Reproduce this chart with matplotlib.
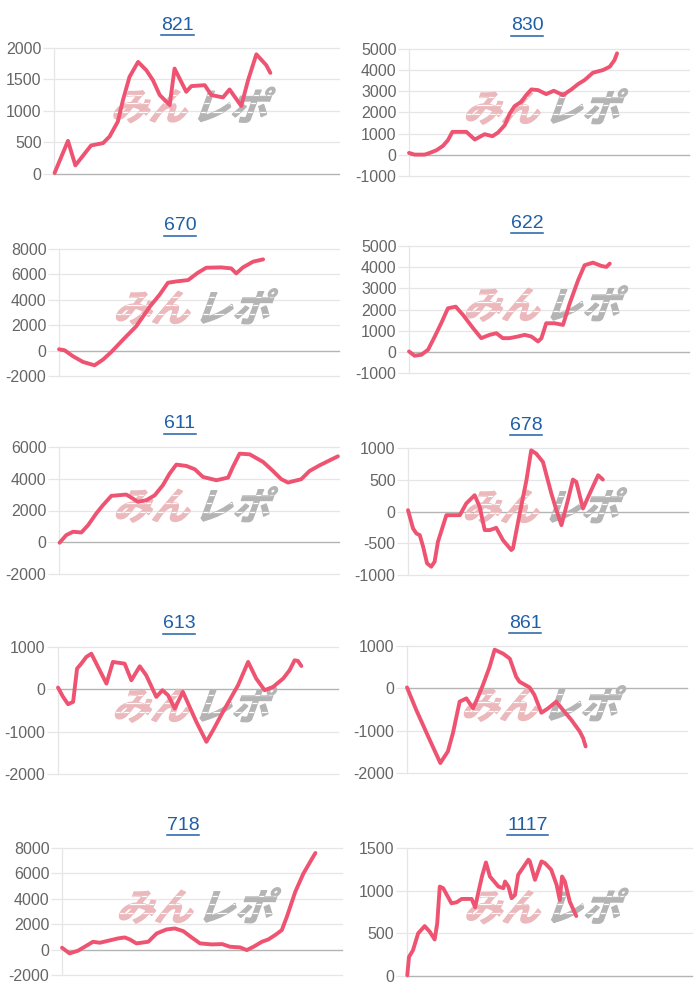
import numpy as np
import matplotlib
matplotlib.use("Agg")
import matplotlib.pyplot as plt
from matplotlib.textpath import TextPath
from matplotlib.patches import PathPatch
from matplotlib.font_manager import FontProperties
from matplotlib.transforms import Affine2D
from matplotlib.lines import Line2D

plt.rcParams['font.family'] = ['Liberation Sans', 'DejaVu Sans']
plt.rcParams['axes.unicode_minus'] = False

# chart data: x as percent of the axis width, y as value
titles = ['821', '830', '670', '622', '611', '678', '613', '861', '718', '1117']

x_821 = [0.2, 4.9, 7.5, 13, 17.2, 19.5, 22.4, 24.2, 26.5, 29.5, 32.4, 34.7, 37.1, 40.6, 42.3,
         46.4, 48.2, 52.9, 55.2, 59.3, 61.6, 65.7, 68.1, 71.0, 74.5, 75.9]
y_821 = [16, 526, 137, 453, 490, 595, 832, 1174, 1542, 1779, 1647, 1490, 1253, 1095, 1674,
         1305, 1395, 1410, 1253, 1216, 1342, 1079, 1490, 1900, 1726, 1605]

x_830 = [0, 2, 5.6, 7.4, 9.8, 12.1, 13.9, 15.5, 20.5, 23.5, 27, 29.8, 31.8, 34.2, 36, 37.7,
         40.1, 41.9, 43.7, 46.1, 49, 51.7, 55, 58, 60.4, 62.7, 65.7, 69.3, 71.7, 73.4, 74.3]
y_830 = [90, 10, 10, 90, 216, 421, 690, 1085, 1085, 722, 974, 880, 1053, 1400, 1953, 2300,
         2506, 2822, 3090, 3058, 2869, 3027, 2822, 3090, 3343, 3532, 3880, 4006, 4164, 4480, 4795]

x_670 = [0, 2, 5, 8.6, 12.7, 15.7, 18.7, 22.9, 27.6, 32.4, 36, 38.9, 41.9, 46.1, 49.6, 52.6,
         57.9, 61.5, 63.3, 65.7, 69.3, 72.9]
y_670 = [105, 26, -447, -895, -1158, -710, -105, 868, 1921, 3447, 4421, 5342, 5447, 5552,
         6131, 6526, 6552, 6474, 6079, 6552, 7000, 7184]

x_622 = [0, 2, 4.4, 6.8, 9.2, 11.5, 13.9, 16.7, 19.3, 22.9, 25.8, 28.8, 31.2, 33.5, 35.9,
         38.9, 41.3, 43.7, 46.1, 47.3, 49, 52, 55, 57.4, 60.4, 62.7, 65.7, 68.7, 70.5, 71.7]
y_622 = [19, -185, -138, 97, 724, 1350, 2055, 2134, 1742, 1116, 646, 802, 880, 646, 646,
         724, 802, 724, 489, 646, 1350, 1350, 1272, 2290, 3386, 4090, 4215, 4058, 4012, 4168]

x_611 = [0.2, 2.6, 5, 8, 10.4, 13.3, 15.7, 18.7, 24, 25.8, 28.2, 31.2, 34.2, 37.1, 39.5, 41.9,
         45.5, 48.5, 51.4, 56.2, 60.4, 62.1, 64.5, 68.1, 72.9, 76.4, 79.4, 81.8, 83.6, 86.5,
         89.5, 93.1, 96.7, 99.6]
y_611 = [-31, 450, 660, 618, 1078, 1811, 2335, 2921, 3005, 2817, 2545, 2649, 2963, 3592,
         4325, 4890, 4806, 4597, 4115, 3906, 4073, 4743, 5581, 5539, 5058, 4492, 3969, 3759,
         3843, 3969, 4492, 4848, 5162, 5413]

x_678 = [0, 1.8, 3, 4.2, 5.4, 6.8, 8.3, 9.5, 10.7, 13.7, 18.5, 20.8, 23.8, 25.6, 27.4, 29.2,
         31.5, 33.9, 36.9, 37.5, 39.9, 42.3, 44, 45.8, 48.2, 51.2, 53, 54.8, 57.1, 58.9, 60.1,
         62.5, 64.9, 67.9, 69.6]
y_678 = [21, -267, -346, -372, -555, -817, -869, -791, -476, -58, -58, 126, 257, 73, -293,
         -293, -257, -450, -607, -581, -31, 492, 963, 911, 780, 283, 21, -215, 178, 503, 466,
         47, 283, 571, 503]

x_613 = [0, 1.8, 3.6, 5.4, 6.8, 8.3, 10.1, 11.9, 14.9, 17.3, 19.6, 23.8, 26.2, 29.2, 31.5,
         35.1, 37.3, 39.3, 41.7, 44.6, 49.4, 53, 55.4, 58.9, 64.3, 67.9, 70.8, 73.8, 76.8,
         80.4, 82.7, 84.5, 85.7, 86.9]
y_613 = [42, -178, -351, -296, 489, 607, 764, 843, 450, 136, 647, 607, 214, 544, 332, -178,
         -21, -139, -453, -60, -767, -1239, -964, -532, 96, 647, 254, -21, 57, 254, 450, 686,
         670, 552]

x_861 = [0, 3.3, 8.1, 11.9, 14.6, 16.4, 18.8, 21.2, 23.6, 25.4, 27.1, 29.5, 31.3, 34.3, 36.7,
         39, 40.2, 43.8, 45.5, 48, 50.4, 53.3, 55.7, 58.7, 61.7, 62.9, 63.8]
y_861 = [21, -511, -1216, -1764, -1490, -1059, -315, -237, -472, -198, 76, 507, 913, 820,
         703, 272, 155, 21, -155, -577, -472, -315, -511, -746, -1020, -1176, -1372]

x_718 = [0, 2.7, 5.7, 8.1, 11.1, 13.5, 16.5, 20, 22.4, 24.2, 26.6, 30.8, 33.8, 37.3, 40.3,
         43.3, 46.3, 49.3, 53.5, 57.2, 60, 63.6, 66, 68.4, 71.4, 73.7, 76.1, 78.5, 80.3, 83.3,
         86.2, 89.3, 90.5]
y_718 = [147, -298, -89, 225, 618, 539, 696, 880, 958, 801, 487, 618, 1272, 1586, 1665, 1455,
         958, 487, 408, 435, 225, 173, -37, 225, 618, 801, 1141, 1534, 2581, 4545, 5984, 7162,
         7607]

x_1117 = [0.1, 0.7, 2.1, 3.9, 6.2, 8, 9.7, 10.6, 11.5, 12.7, 15.6, 17.4, 19.2, 22.7, 23.9,
          25.1, 26.3, 27.7, 29.1, 32.1, 33.8, 34.4, 35.6, 36.7, 37.9, 39, 40.2, 42.6, 43.1,
          44.9, 47.2, 48.4, 50.6, 52.5, 53.6, 54.4, 55.4, 57.1, 59.4]
y_1117 = [8, 224, 302, 499, 585, 518, 428, 616, 1048, 1029, 852, 864, 903, 903, 805, 990,
          1166, 1331, 1166, 1048, 1029, 1107, 1048, 911, 950, 1186, 1245, 1363, 1343, 1127,
          1343, 1323, 1245, 1068, 891, 1166, 1107, 872, 703]

xs = [x_821, x_830, x_670, x_622, x_611, x_678, x_613, x_861, x_718, x_1117]
ys = [y_821, y_830, y_670, y_622, y_611, y_678, y_613, y_861, y_718, y_1117]

yticks = [
    [0, 500, 1000, 1500, 2000],
    [-1000, 0, 1000, 2000, 3000, 4000, 5000],
    [-2000, 0, 2000, 4000, 6000, 8000],
    [-1000, 0, 1000, 2000, 3000, 4000, 5000],
    [-2000, 0, 2000, 4000, 6000],
    [-1000, -500, 0, 500, 1000],
    [-2000, -1000, 0, 1000],
    [-2000, -1000, 0, 1000],
    [-2000, 0, 2000, 4000, 6000, 8000],
    [0, 500, 1000, 1500],
]

# axes boxes in pixels: left, top, right, bottom
boxes = [
    (54, 48, 339, 174), (409, 49, 689, 176),
    (59, 249, 339, 376), (409, 246, 689, 373),
    (59, 447, 339, 574), (408, 448, 688, 575),
    (58, 647, 338, 774), (407, 646, 687, 773),
    (62, 848, 342, 975), (407, 848, 692, 976),
]

W, H = 700, 1000
fig = plt.figure(figsize=(7, 10), dpi=100, facecolor='white')

line_c = '#ee5471'
grid_c = '#e6e6e6'
zero_c = '#b4b4b4'
title_c = '#1f5fa6'
wm_font = FontProperties(family='Noto Sans CJK JP', weight='bold')

titles_txt = []
for i in range(10):
    l, t, r, b = boxes[i]
    ax = fig.add_axes([l / W, 1 - b / H, (r - l) / W, (b - t) / H])
    ax.set_xlim(0, 100)
    tk = yticks[i]
    ax.set_ylim(tk[0], tk[-1])
    ax.set_yticks(tk)
    ax.set_xticks([])
    for yv in tk:
        if yv == 0:
            ax.axhline(0, color=zero_c, lw=1.0, zorder=1, clip_on=False)
        else:
            ax.axhline(yv, color=grid_c, lw=0.9, zorder=0.5, clip_on=False)
    for s in ['top', 'right', 'bottom']:
        ax.spines[s].set_visible(False)
    ax.spines['left'].set_color(grid_c)
    ax.spines['left'].set_linewidth(0.9)
    ax.tick_params(axis='y', length=8, width=0.9, color=grid_c, labelcolor='#666666',
                   labelsize=11.5, pad=1)
    ax.set_facecolor('none')

    ax.plot(xs[i], ys[i], color=line_c, lw=2.8, zorder=3, solid_joinstyle='round',
            solid_capstyle='round', clip_on=False)

    # watermark みんレポ, skewed like italics
    cx = (l + r) / 2 - 2
    cy = H - ((t + b) / 2 - 6)
    p1 = TextPath((0, 0), 'みん', size=38, prop=wm_font)
    p2 = TextPath((0, 0), 'レポ', size=38, prop=wm_font)
    w1 = p1.get_extents().x1
    sk = Affine2D().skew_deg(20, 0)
    p1s = sk.transform_path(p1)
    p2s = (Affine2D().translate(w1 + 6, 0) + sk).transform_path(p2)
    e1 = p1s.get_extents()
    e2 = p2s.get_extents()
    x0, x1 = e1.x0, e2.x1
    y0, y1 = min(e1.y0, e2.y0), max(e1.y1, e2.y1)
    to_fig = Affine2D().translate(cx - (x0 + x1) / 2, cy - (y0 + y1) / 2).scale(1 / 100) + fig.dpi_scale_trans
    pk = PathPatch(p1s, transform=to_fig, facecolor='#ebb8bc', edgecolor='#ebb8bc',
                   lw=0.9, zorder=2, clip_on=False)
    gr = PathPatch(p2s, transform=to_fig, facecolor='#b4b4b4', edgecolor='#b4b4b4',
                   lw=0.9, zorder=2, clip_on=False)
    ax.add_patch(pk)
    ax.add_patch(gr)
    # speed streaks cut through the letters
    for dy in [0.30, 0.55, 0.78]:
        yy_fig = (cy - (y1 - y0) / 2 + dy * (y1 - y0)) / H
        for patch in (pk, gr):
            st = Line2D([(cx - 90) / W, (cx + 90) / W], [yy_fig, yy_fig], color='white',
                        lw=0.9, transform=fig.transFigure, zorder=2.5)
            st.set_clip_path(patch)
            ax.add_artist(st)

    tx = (l + r) / 2 - 19 if i % 2 == 0 else (l + r) / 2 - 22
    txt = fig.text(tx / W, 1 - 25 / H - (t - 48) / H, titles[i], color=title_c, fontsize=14,
                   ha='center', va='center')
    titles_txt.append(txt)

# underline the titles like links
fig.canvas.draw()
rend = fig.canvas.get_renderer()
for txt in titles_txt:
    bb = txt.get_window_extent(rend)
    yy = (bb.y0 - 1) / H
    fig.add_artist(Line2D([bb.x0 / W, bb.x1 / W], [yy, yy], color=title_c, lw=1.1,
                          transform=fig.transFigure))

fig.savefig('out.png', dpi=100, facecolor='white')
